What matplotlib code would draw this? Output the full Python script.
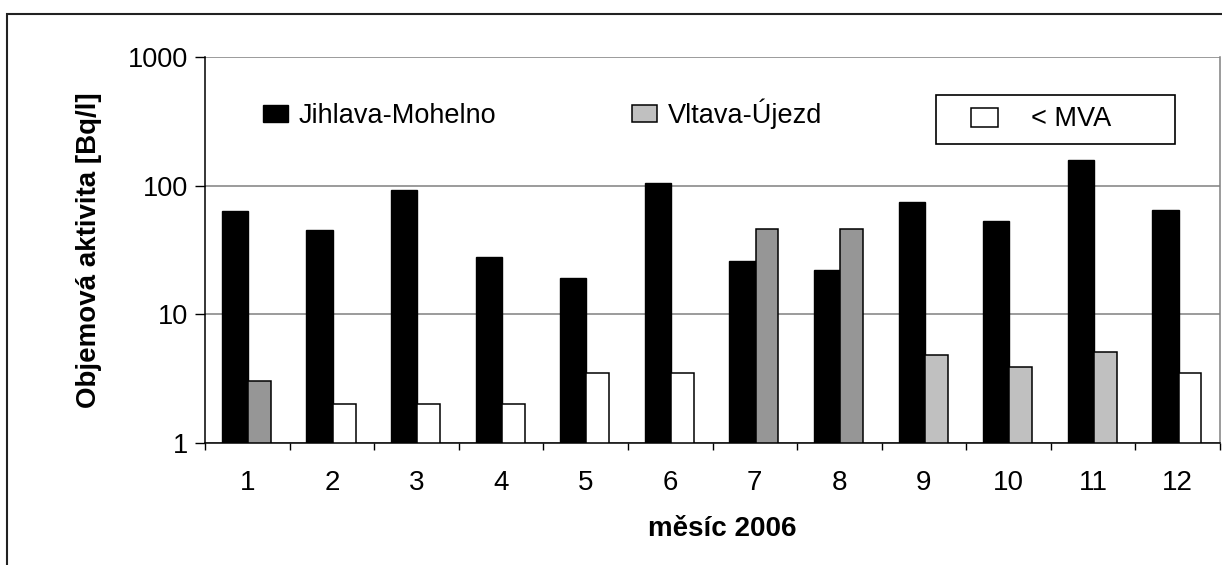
import matplotlib.pyplot as plt
import numpy as np
from matplotlib.patches import Patch, Rectangle
from matplotlib.ticker import NullLocator

plt.rcParams['font.family'] = ['Liberation Sans', 'DejaVu Sans']

# měsíční hodnoty objemové aktivity [Bq/l]
months = ['1', '2', '3', '4', '5', '6', '7', '8', '9', '10', '11', '12']
jihlava = [63, 45, 92, 28, 19, 105, 26, 22, 75, 53, 157, 65]
vltava = [3.0, 2.0, 2.0, 2.0, 3.5, 3.5, 46, 46, 4.8, 3.9, 5.1, 3.5]
# druh hodnoty Vltava: 'B' a 'A' naměřeno, 'MVA' pod mezí stanovitelnosti
vltava_kind = ['B', 'MVA', 'MVA', 'MVA', 'MVA', 'MVA', 'B', 'B', 'A', 'A', 'A', 'MVA']

kind_colors = {'A': '#c0c0c0', 'B': '#969696', 'MVA': 'white'}

W, H = 1222, 565


def fx(px):
    return px / W


def fy(py):
    return 1 - py / H


fig = plt.figure(figsize=(W / 100, H / 100), dpi=100)
ax = fig.add_axes([fx(205), fy(442.7), fx(1220) - fx(205), fy(57) - fy(442.7)])

x = np.arange(len(months))
ax.set_yscale('log')
ax.bar(x - 0.145, jihlava, width=0.31, color='black', edgecolor='black',
       linewidth=1.0, zorder=2)
ax.bar(x + 0.145, vltava, width=0.27,
       color=[kind_colors[k] for k in vltava_kind], edgecolor='black',
       linewidth=1.1, zorder=2)

ax.set_xlim(-0.5, len(months) - 0.5)
ax.set_ylim(1, 1000)

# osa y
ax.set_yticks([1, 10, 100, 1000], labels=['1', '10', '100', '1000'])
ax.yaxis.set_minor_locator(NullLocator())
ax.tick_params(axis='y', direction='out', length=7, width=1, pad=5,
               labelsize=19.5, colors='black')
ax.grid(axis='y', color='#808080', linewidth=1.1)
ax.set_axisbelow(True)

# osa x: čárky na hranicích měsíců, popisky uprostřed
ax.set_xticks(np.arange(len(months) + 1) - 0.5, labels=[])
ax.set_xticks(x, labels=months, minor=True)
ax.tick_params(axis='x', which='major', direction='out', length=5, width=1)
ax.tick_params(axis='x', which='minor', length=0, pad=20, labelsize=20)

for side in ['left', 'bottom']:
    ax.spines[side].set_color('black')
    ax.spines[side].set_linewidth(1.1)
ax.spines['top'].set_visible(False)
ax.spines['right'].set_color('#808080')
ax.spines['right'].set_linewidth(1.1)

ax.set_ylabel('Objemová aktivita [Bq/l]', fontsize=20, fontweight='bold')
ax.yaxis.set_label_coords(-0.101, 0.5)
ax.set_xlabel('měsíc 2006', fontsize=20, fontweight='bold')
ax.xaxis.set_label_coords(0.51, -0.19)

# legenda řad
handles = [Patch(facecolor='black', edgecolor='black', linewidth=1.0),
           Patch(facecolor=kind_colors['A'], edgecolor='black', linewidth=1.1)]
leg = fig.legend(handles, ['Jihlava-Mohelno', 'Vltava-Újezd'], ncol=2,
                 loc='center left', bbox_to_anchor=(fx(263), fy(114)),
                 frameon=False, fontsize=19.5, borderpad=0, borderaxespad=0,
                 handlelength=0.92, handleheight=0.6, handletextpad=0.4,
                 columnspacing=5.0)

# legenda hodnot pod MVA v rámečku
leg2 = fig.legend([Patch(facecolor='white', edgecolor='black', linewidth=1.1)],
                  ['< MVA'], loc='center left',
                  bbox_to_anchor=(fx(971), fy(119.5)), frameon=False,
                  fontsize=19.5, borderpad=0, borderaxespad=0,
                  handlelength=1.0, handleheight=0.7, handletextpad=1.2)
fig.add_artist(Rectangle((fx(936), fy(144)), fx(1175) - fx(936),
                         fy(95) - fy(144), transform=fig.transFigure,
                         fill=False, edgecolor='black', linewidth=1.2))

# vnější rámeček grafu
fig.add_artist(Rectangle((fx(7), -0.1), 1.2, fy(14) + 0.1,
                         transform=fig.transFigure, fill=False,
                         edgecolor='#222222', linewidth=1.5, clip_on=False))

fig.savefig('out.png', dpi=100)
